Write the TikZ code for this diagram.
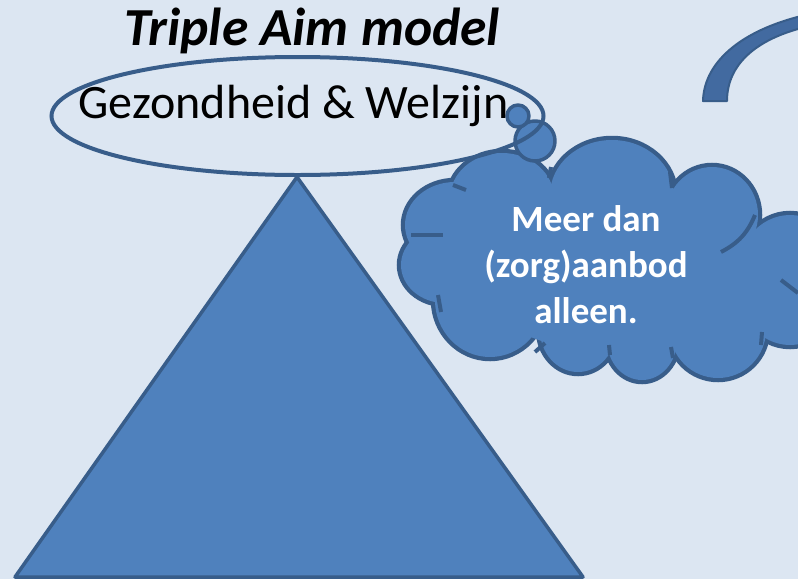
\documentclass[tikz,border=0pt]{standalone}
\usepackage{fontspec}
\setmainfont{Carlito}
\definecolor{slideColour}{RGB}{220,230,242}
\definecolor{shapeColour}{RGB}{79,129,189}
\definecolor{edgeColour}{RGB}{56,93,138}
\definecolor{arrowColour}{RGB}{66,106,160}
\tikzset{
  blueshape/.style={draw=edgeColour, fill=shapeColour, line width=3.5pt, line join=round},
  cloudedge/.style={draw=edgeColour, line width=8.5pt},
  cloudtail/.style={draw=edgeColour, line width=4pt},
  ringedge/.style={draw=edgeColour, line width=4pt}
}
% bumps of the cloud: centre x / centre y / x radius / y radius
\def\cloudbumps{502/198/52/45, 612/195/62/55, 712/215/46/48, 790/280/55/65, 718/330/48/48,
  642/340/35/40, 578/330/38/42, 490/300/55/57, 445/265/44/38, 455/225/50/43}

\begin{document}
\begin{tikzpicture}[x=1pt, y=-1pt]
		% the slide
		\fill[slideColour] (0,0) rectangle (798,579);
		\useasboundingbox (0,0) rectangle (798,579);
		\clip (0,0) rectangle (798,579);

		% the curved arrow, top right
		\draw[draw=edgeColour, fill=arrowColour, line width=2pt, line join=round] (703,101) .. controls (704,60) and (745,28) .. (810,14) -- (810,26) .. controls (760,37) and (727,62) .. (727,101) -- cycle;

		% the triangle
		\draw[blueshape] (297,177) -- (583,577) -- (15,577) -- cycle;

		% the cloud
		\foreach \cx/\cy/\rx/\ry in \cloudbumps
			\draw[cloudedge] (\cx,\cy) ellipse[x radius=\rx, y radius=\ry];
		\fill[shapeColour] (600,265) ellipse[x radius=130, y radius=85];
		\fill[shapeColour] (715,270) ellipse[x radius=40, y radius=40];
		\foreach \cx/\cy/\rx/\ry in \cloudbumps
			\fill[shapeColour] (\cx,\cy) ellipse[x radius=\rx, y radius=\ry];
		\foreach \ax/\ay/\bx/\by in {453/185/466/190, 551/167/549/178, 670/172/672/188, 781/280/798/293,
			761/345/762/332, 673/358/671/347, 610/355/609/345, 535/352/545/343, 438/295/441/312, 411/235/443/235}
			\draw[cloudtail] (\ax,\ay) -- (\bx,\by);
		\draw[cloudtail] (755,215) to[bend left=20] (721,252);

		% the thought bubbles
		\draw[blueshape] (535,141) circle(20);
		\draw[blueshape] (518,116) circle(11);

		% the ring
		\draw[ringedge] (297.5,116) ellipse[x radius=246, y radius=59];

		% the text
		\node[font=\fontsize{53.5}{64}\selectfont\bfseries\itshape, anchor=base] (title) at (312,45) {Triple Aim model};
		\node[font=\fontsize{48}{58}\selectfont, anchor=base] (goal) at (293.5,118) {Gezondheid \& Welzijn};
		\node[text=white, font=\fontsize{37}{46}\selectfont\bfseries, align=center] (cloudtext) at (586,265) {Meer dan\\(zorg)aanbod\\alleen.};
	\end{tikzpicture}
\end{document}
